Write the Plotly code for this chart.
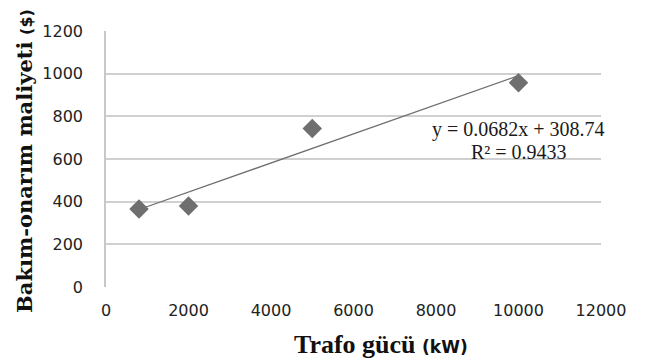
import plotly.graph_objects as go

# Data
trafo_kw = [800, 2000, 5000, 10000]
maliyet = [366, 380, 743, 958]
slope = 0.0682
intercept = 308.74
r2 = 0.9433
x_ticks = [0, 2000, 4000, 6000, 8000, 10000, 12000]
x_tick_labels = [str(v) for v in x_ticks]
y_ticks = [0, 200, 400, 600, 800, 1000, 1200]
x_title = "Trafo gücü"
x_unit = "(kW)"
y_title = "Bakım-onarım maliyeti"
y_unit = "($)"

trend_x = [min(trafo_kw), max(trafo_kw)]
trend_y = [slope * v + intercept for v in trend_x]

fig = go.Figure()
fig.add_trace(go.Scatter(x=trend_x, y=trend_y, mode="lines",
                         line=dict(color="#6e6e6e", width=1.3), hoverinfo="skip"))
fig.add_trace(go.Scatter(x=trafo_kw, y=maliyet, mode="markers",
                         marker=dict(symbol="diamond", size=15, color="#6f6f6f")))

eq_font = dict(family="Liberation Serif", size=20, color="#1a1a1a")
fig.add_annotation(x=10000, y=736, xref="x", yref="y",
                   text=f"y = {slope}x + {intercept}", showarrow=False, font=eq_font)
fig.add_annotation(x=10000, y=633, xref="x", yref="y",
                   text=f"R² = {r2}", showarrow=False, font=eq_font)

# axis titles
fig.add_annotation(xref="paper", yref="paper", x=0.556, y=-0.226,
                   xanchor="center", yanchor="middle", showarrow=False,
                   text=f"<b>{x_title}</b> <b><span style='font-family:DejaVu Sans;font-size:17px'>{x_unit}</span></b>",
                   font=dict(family="Liberation Serif", size=26, color="#111111"))
fig.add_annotation(xref="paper", yref="paper", x=-0.166, y=0.492,
                   xanchor="center", yanchor="middle", showarrow=False, textangle=-90,
                   text=f"<b>{y_title}</b> <b><span style='font-family:DejaVu Sans;font-size:16px'>{y_unit}</span></b>",
                   font=dict(family="DejaVu Serif", size=21, color="#111111"))

fig.update_layout(
    width=649, height=360,
    margin=dict(l=106, r=48, t=31, b=73),
    paper_bgcolor="white", plot_bgcolor="white",
    showlegend=False,
    font=dict(family="DejaVu Sans", size=16, color="#222222"),
)
fig.update_xaxes(range=[0, 12000], tickvals=x_ticks, ticktext=x_tick_labels,
                 showgrid=False, zeroline=False, showline=False, ticks="",
                 ticklabelstandoff=12)
fig.update_yaxes(range=[0, 1200], tickvals=y_ticks, showgrid=True,
                 gridcolor="#d0d0d0", gridwidth=1.5,
                 zeroline=False, showline=True, linecolor="#c8c8c8", linewidth=1.5,
                 ticks="", ticklabelstandoff=18)

fig.write_html("out.html")
